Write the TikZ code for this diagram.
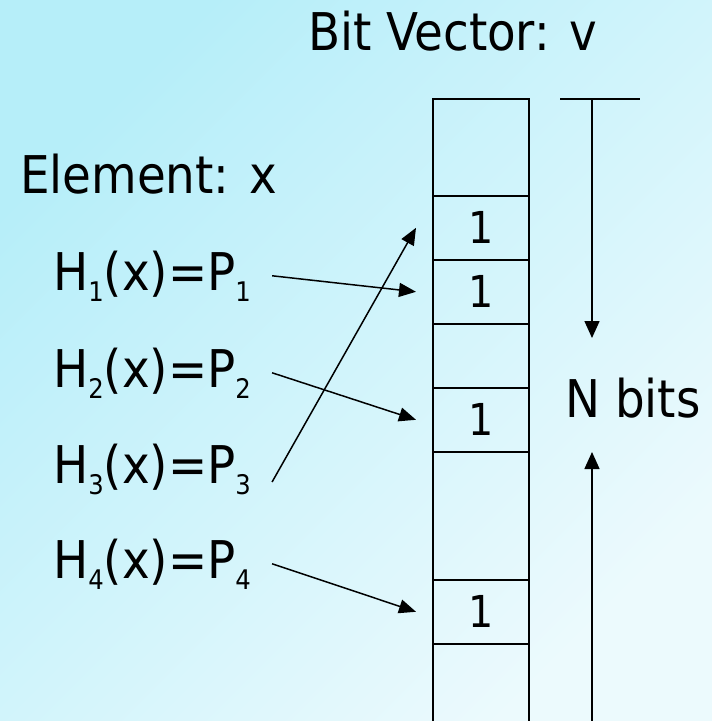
\documentclass[tikz,border=0pt]{standalone}
\usepackage{fontspec}
\setmainfont{DejaVu Sans Condensed}
\usetikzlibrary{arrows.meta,positioning}
\definecolor{bgTop}{RGB}{182,238,249}
\definecolor{bgLow}{RGB}{236,250,253}
\newcommand{\hsub}[1]{\raisebox{-11pt}{\fontsize{27}{27}\selectfont #1}}

\begin{document}
\begin{tikzpicture}[x=1pt, y=-1pt,
    titletext/.style={inner sep=0pt, anchor=base west, font=\fontsize{52}{60}\selectfont},
    hashtext/.style={titletext},
    cell/.style={draw, line width=1.6pt, minimum width=96pt, anchor=north west,
                 inner sep=0pt, font=\fontsize{44}{50}\selectfont},
    hasharrow/.style={-{Triangle[length=17pt,width=14pt]}, line width=1.5pt},
    spanarrow/.style={-{Triangle[length=17pt,width=15pt]}, line width=1.5pt}]

  % Background
  \useasboundingbox (0,0) rectangle (712,721);
  \clip (0,0) rectangle (712,721);
  \shade[top color=bgTop, bottom color=bgLow, shading angle=45]
    (0,0) rectangle (712,721);

  % Labels
  \node[titletext] (title) at (308,50) {Bit Vector: v};
  \node[titletext] (elem) at (20,193) {Element: x};
  \node[titletext] (nbits) at (565,417) {N bits};

  % Bit vector cells
  \foreach \name/\top/\h/\bit in {c1/98/97/{}, c2/195/64/1, c3/259/64/1, c4/323/64/{},
                                  c5/387/64/1, c6/451/128/{}, c7/579/64/1, c8/643/120/{}} {
    \node[cell, minimum height=\h pt] (\name) at (432,\top) {\bit};
  }

  % Hash functions
  \foreach \i/\base in {1/290, 2/387, 3/483, 4/578} {
    \node[hashtext] (h\i) at (53,\base) {H\hsub{\i}(x)=P\hsub{\i}};
  }

  % Hash arrows
  \draw[hasharrow] ([xshift=21pt]h1.east) -- ([xshift=-16pt]c3.west);
  \draw[hasharrow] ([xshift=21pt]h2.east) -- ([xshift=-16pt]c5.west);
  \draw[hasharrow] ([xshift=21pt,yshift=-13pt]h3.east) -- ([xshift=-16pt]c2.west);
  \draw[hasharrow] ([xshift=21pt]h4.east) -- ([xshift=-16pt]c7.west);

  % N bits span
  \coordinate (spantop) at (592,99);
  \coordinate (spanup) at (592,338);
  \coordinate (spandown) at (592,452);
  \coordinate (spanbot) at (592,730);
  \draw[line width=1.5pt] ([xshift=-32pt]spantop) -- ([xshift=48pt]spantop);
  \draw[spanarrow] (spantop) -- (spanup);
  \draw[spanarrow] (spanbot) -- (spandown);

\end{tikzpicture}
\end{document}
